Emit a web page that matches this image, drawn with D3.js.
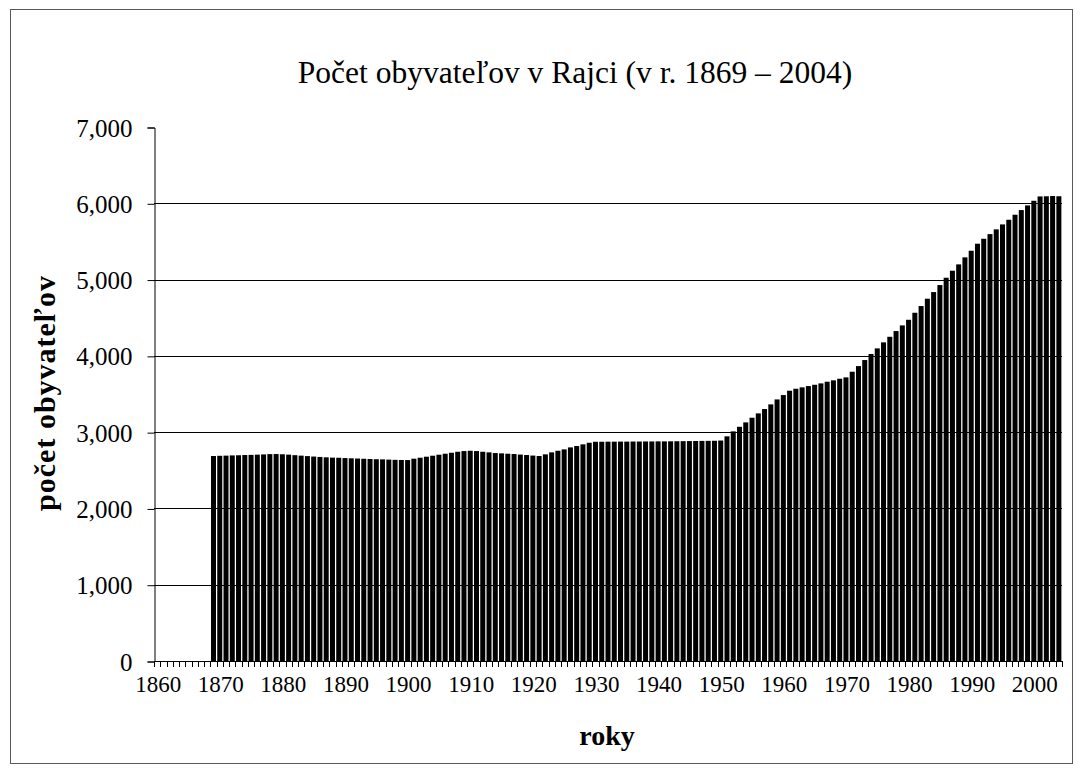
<!DOCTYPE html>
<html>
<head>
<meta charset="utf-8">
<script src="https://cdn.jsdelivr.net/npm/d3@7"></script>
<style>
  body { margin: 0; background: #fff; }
  svg { display: block; font-family: "Liberation Serif", "Times New Roman", serif; }
</style>
</head>
<body>
<svg id="chart" width="1083" height="773"></svg>
<script>
// years on the category axis (1860 - 2004), data only from 1869
const years = d3.range(1860, 2005);
const firstDataYear = 1869;

const population = [
    2687, 2690, 2692, 2695, 2697, 2700, 2702, 2705, 2708, 2712, // 1869-1878
    2713, 2710, 2705, 2698, 2692, 2686, 2680, 2675, 2670, 2666, // 1879-1888
    2664, 2660, 2657, 2654, 2651, 2648, 2645, 2643, 2640, 2637, // 1889-1898
    2635, 2634, 2652, 2665, 2678, 2691, 2704, 2717, 2730, 2743, // 1899-1908
    2752, 2756, 2752, 2743, 2735, 2726, 2722, 2717, 2713, 2706, // 1909-1918
    2700, 2693, 2687, 2709, 2735, 2756, 2774, 2800, 2818, 2840, // 1919-1928
    2861, 2874, 2874, 2875, 2875, 2876, 2876, 2877, 2877, 2878, // 1929-1938
    2878, 2879, 2879, 2880, 2881, 2882, 2883, 2884, 2885, 2886, // 1939-1948
    2887, 2890, 2945, 3010, 3070, 3128, 3189, 3246, 3303, 3364, // 1949-1958
    3429, 3486, 3543, 3569, 3587, 3604, 3621, 3639, 3661, 3679, // 1959-1968
    3700, 3718, 3792, 3866, 3945, 4024, 4098, 4177, 4250, 4325, // 1969-1978
    4399, 4473, 4565, 4653, 4749, 4836, 4928, 5024, 5116, 5199, // 1979-1988
    5291, 5378, 5470, 5535, 5596, 5658, 5723, 5784, 5850, 5911, // 1989-1998
    5972, 6033, 6090, 6092, 6095, 6092                          // 1999-2004
];

const yTicks = [0, 1000, 2000, 3000, 4000, 5000, 6000, 7000];
const xLabelYears = [1860, 1870, 1880, 1890, 1900, 1910, 1920, 1930, 1940, 1950, 1960, 1970, 1980, 1990, 2000];

const titleText = "Počet obyvateľov v Rajci (v r. 1869 – 2004)";
const xTitle = "roky";
const yTitle = "počet obyvateľov";

const data = population.map((v, i) => ({ year: firstDataYear + i, value: v }));

const svg = d3.select("#chart");
const serif = '"Liberation Serif", "Times New Roman", serif';

// chart area border
svg.append("rect")
    .attr("x", 10.5).attr("y", 9.5)
    .attr("width", 1062).attr("height", 754)
    .attr("fill", "#fff")
    .attr("stroke", "#595959")
    .attr("stroke-width", 1);

const plot = { left: 154, right: 1062, top: 127, bottom: 661 };

const x = d3.scaleBand()
    .domain(years)
    .range([plot.left, plot.right])
    .paddingInner(0.2)
    .paddingOuter(0.1);

const y = d3.scaleLinear()
    .domain([0, 7000])
    .range([plot.bottom, plot.top]);

// gridlines
svg.append("g")
    .selectAll("line")
    .data(yTicks.filter(t => t > 0 && t < 7000))
    .enter().append("line")
    .attr("x1", plot.left).attr("x2", plot.right)
    .attr("y1", d => Math.round(y(d)) + 0.5)
    .attr("y2", d => Math.round(y(d)) + 0.5)
    .attr("stroke", "#000")
    .attr("stroke-width", 1);

// bars
svg.append("g")
    .selectAll("rect")
    .data(data)
    .enter().append("rect")
    .attr("x", d => x(d.year))
    .attr("width", x.bandwidth())
    .attr("y", d => y(d.value))
    .attr("height", d => y(0) - y(d.value))
    .attr("fill", "#000");

// y axis
const yAxis = d3.axisLeft(y)
    .tickValues(yTicks)
    .tickSize(7)
    .tickPadding(15)
    .tickFormat(d3.format(","));

const gy = svg.append("g")
    .attr("transform", `translate(${plot.left + 0.5},0.5)`)
    .call(yAxis)
    .attr("font-family", serif)
    .attr("font-size", 25);
gy.select(".domain").attr("stroke", "#000");
gy.selectAll(".tick text")
    .attr("fill", "#000")
    .attr("dy", "0.34em");

// x axis: ticks on category boundaries, labels every 10 years
const step = x.step();
const boundaries = d3.range(years.length + 1).map(i => plot.left + i * step);

const gx = svg.append("g");
gx.append("line")
    .attr("x1", plot.left).attr("x2", plot.right)
    .attr("y1", plot.bottom + 0.5).attr("y2", plot.bottom + 0.5)
    .attr("stroke", "#000");
gx.selectAll("line.tick")
    .data(boundaries)
    .enter().append("line")
    .attr("class", "tick")
    .attr("x1", d => Math.round(d) + 0.5).attr("x2", d => Math.round(d) + 0.5)
    .attr("y1", plot.bottom).attr("y2", plot.bottom + 6)
    .attr("stroke", "#000");
gx.selectAll("text")
    .data(xLabelYears)
    .enter().append("text")
    .attr("x", d => x(d) + x.bandwidth() / 2 + 1)
    .attr("y", 692)
    .attr("text-anchor", "middle")
    .attr("font-size", 23)
    .text(d => d);

// titles
svg.append("text")
    .attr("x", 575).attr("y", 83)
    .attr("text-anchor", "middle")
    .attr("font-size", 31.5)
    .text(titleText);

svg.append("text")
    .attr("x", 607).attr("y", 745)
    .attr("text-anchor", "middle")
    .attr("font-size", 28)
    .attr("font-weight", "bold")
    .text(xTitle);

svg.append("text")
    .attr("transform", "translate(55,393) rotate(-90)")
    .attr("text-anchor", "middle")
    .attr("font-size", 30)
    .attr("letter-spacing", 1)
    .attr("font-weight", "bold")
    .text(yTitle);
</script>
</body>
</html>
